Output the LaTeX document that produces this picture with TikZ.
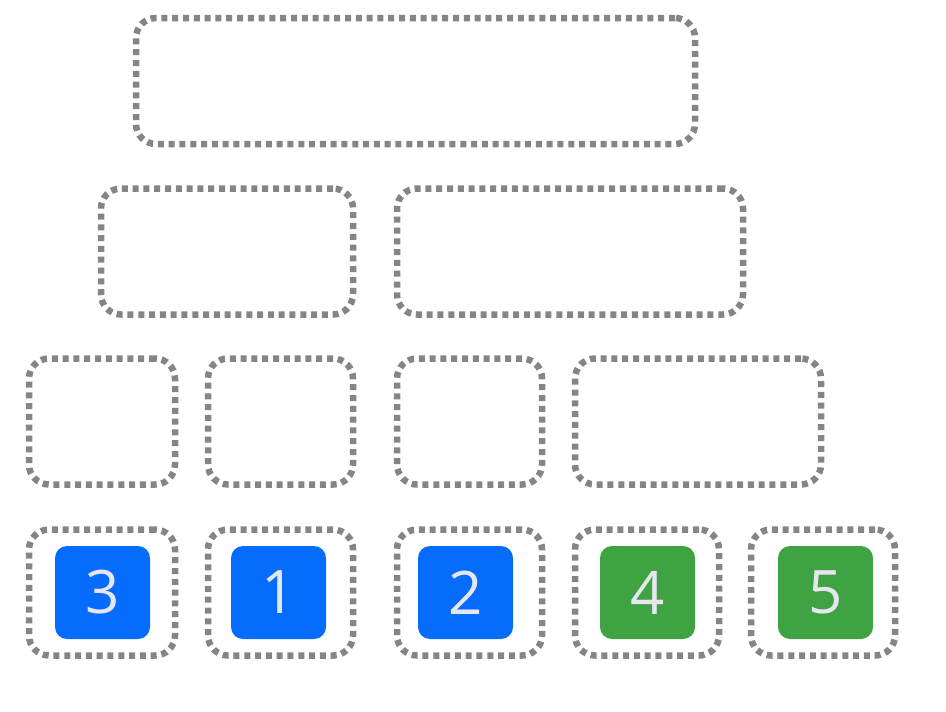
\documentclass[tikz,border=0pt]{standalone}
\usepackage{xcolor}
\usepackage{fontspec}
\setmainfont{Open Sans}
\usepackage{tikz}
\definecolor{slotgray}{HTML}{858585}
\definecolor{tileblue}{HTML}{066CFD}
\definecolor{tilegreen}{HTML}{3FA243}
\definecolor{digitgray}{HTML}{E6E6EE}

\begin{document}
\begin{tikzpicture}[x=1pt,y=-1pt,
	slot/.style={draw=slotgray, line width=6.5pt, dash pattern=on 6pt off 4.8pt, rounded corners=20pt, minimum height=126pt, inner sep=0pt},
	tile/.style={rounded corners=12pt, minimum width=95pt, minimum height=93pt, inner sep=0pt, text=digitgray, font=\fontsize{60}{60}\selectfont},
	bluetile/.style={tile, fill=tileblue},
	greentile/.style={tile, fill=tilegreen}]
			\useasboundingbox (0,0) rectangle (946,712);
			% top level
			\node[slot, minimum width=559pt] (top) at (415.5,81) {};
			% second level
			\node[slot, minimum width=252pt] (left) at (227,251.5) {};
			\node[slot, minimum width=346pt] (right) at (570,251.5) {};
			% third level
			\node[slot, minimum width=146pt] (lla) at (102,421.5) {};
			\node[slot, minimum width=145pt] (llb) at (280.5,421.5) {};
			\node[slot, minimum width=145pt] (lrc) at (469.5,421.5) {};
			\node[slot, minimum width=246pt] (lrd) at (698,421.5) {};
			% bottom level
			\node[slot, minimum width=146pt] (sa) at (102,592.5) {};
			\node[slot, minimum width=145pt] (sb) at (280.5,592.5) {};
			\node[slot, minimum width=145pt] (sc) at (469.5,592.5) {};
			\node[slot, minimum width=144pt] (sd) at (647,592.5) {};
			\node[slot, minimum width=144pt] (se) at (823,592.5) {};
			\node[bluetile] (three) at (102.5,592.5) {3};
			\node[bluetile] (one) at (278.5,592.5) {1};
			\node[bluetile] (two) at (465.5,592.5) {2};
			\node[greentile] (four) at (647.5,592.5) {4};
			\node[greentile] (five) at (825.5,592.5) {5};
		\end{tikzpicture}
\end{document}
